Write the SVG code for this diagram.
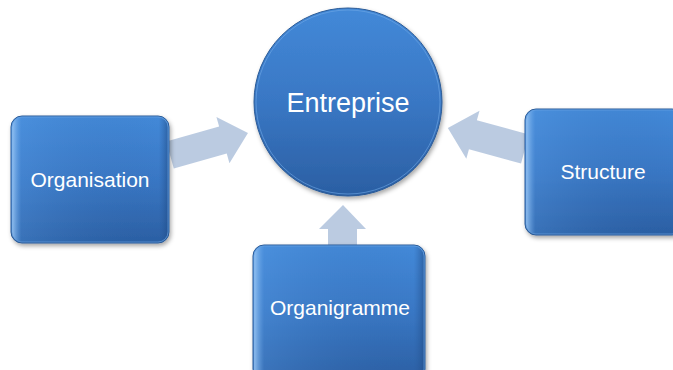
<svg xmlns="http://www.w3.org/2000/svg" width="673" height="370" viewBox="0 0 673 370">
<defs>
<linearGradient id="g" x1="0" y1="0" x2="0" y2="1">
<stop offset="0" stop-color="#4389d8"/>
<stop offset="0.5" stop-color="#3977c4"/>
<stop offset="1" stop-color="#2b5fa3"/>
</linearGradient>
<linearGradient id="edge" x1="0" y1="0" x2="1" y2="0">
<stop offset="0" stop-color="#9cc8f5" stop-opacity="0.9"/>
<stop offset="0.06" stop-color="#5a9de6" stop-opacity="0.3"/>
<stop offset="0.94" stop-color="#2a5c9e" stop-opacity="0"/>
<stop offset="1" stop-color="#1f4b85" stop-opacity="0.6"/>
</linearGradient>
<filter id="sh" x="-10%" y="-10%" width="125%" height="125%">
<feDropShadow dx="1.5" dy="2.5" stdDeviation="2" flood-color="#000" flood-opacity="0.35"/>
</filter>
</defs>
<style>
.node{fill:url(#g);stroke:#2a5a96;stroke-width:1;filter:url(#sh)}
.hl{fill:url(#edge);stroke:#6fa9e6;stroke-width:1;stroke-opacity:0.6}
.arr{fill:#b4c5de;fill-opacity:0.9}
.t{font-family:"Liberation Sans",Arial,sans-serif;fill:#fff;text-anchor:middle}
</style>
<g id="connectors">
<polygon class="arr" transform="translate(170,155) rotate(-15.75)" points="0,-14 55,-14 55,-24 81,0 55,24 55,14 0,14"/>
<polygon class="arr" transform="translate(525,149) rotate(195.3)" points="0,-15 54,-15 54,-25 80,0 54,25 54,15 0,15"/>
<polygon class="arr" points="328,246 328,229 319,229 343,205 366,229 357,229 357,246"/>
</g>
<g id="entreprise">
<circle class="node" cx="348" cy="102" r="94"/>
<circle class="hl" cx="348" cy="102" r="92" style="fill:none"/>
<text class="t" x="348" y="112" font-size="27">Entreprise</text>
</g>
<g id="organisation">
<rect class="node" x="11" y="116" width="158" height="127" rx="11"/>
<rect class="hl" x="12" y="117" width="156" height="125" rx="10"/>
<text class="t" x="90" y="187" font-size="21">Organisation</text>
</g>
<g id="structure">
<rect class="node" x="525" y="109" width="158" height="126" rx="11"/>
<rect class="hl" x="526" y="110" width="156" height="124" rx="10"/>
<text class="t" x="603" y="179" font-size="21">Structure</text>
</g>
<g id="organigramme">
<rect class="node" x="253" y="245" width="172" height="135" rx="11"/>
<rect class="hl" x="254" y="246" width="170" height="133" rx="10"/>
<text class="t" x="340" y="315" font-size="21">Organigramme</text>
</g>
</svg>
